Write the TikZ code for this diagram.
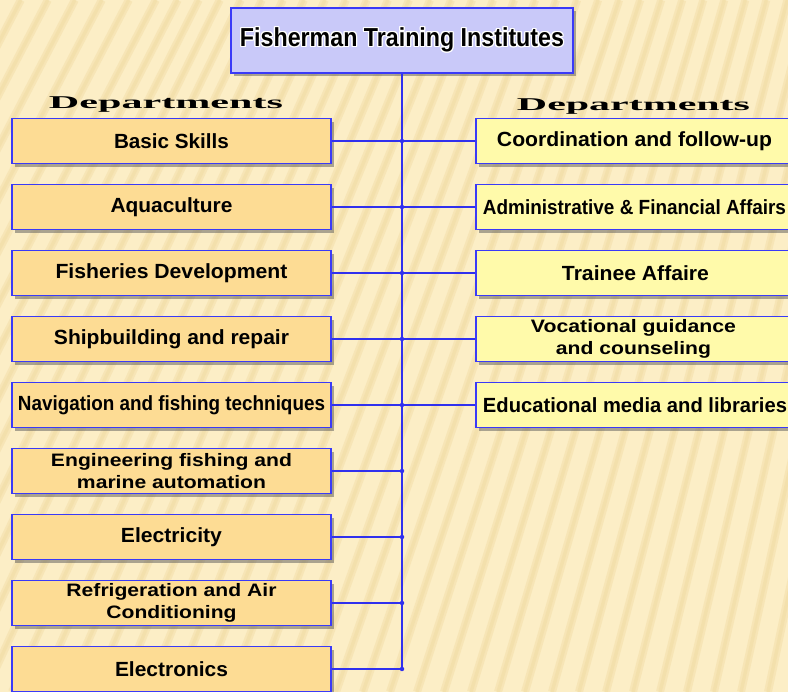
\documentclass[tikz,border=0pt]{standalone}
\usepackage{fontspec}
\setmainfont{Liberation Sans}
\newfontfamily\deptfont{Liberation Serif}
\usepackage{graphicx}
\usepackage{contour}
\contourlength{1.4pt}
\contournumber{12}
\usetikzlibrary{shadows}

\definecolor{paper}{HTML}{FCEEC6}
\definecolor{streak}{HTML}{F1DCA4}
\definecolor{leftfill}{HTML}{FDDC94}
\definecolor{rightfill}{HTML}{FFFAAA}
\definecolor{headfill}{HTML}{C9C9F9}
\definecolor{edge}{HTML}{3A3AF8}
\definecolor{wire}{HTML}{3030EE}
\definecolor{wireshade}{HTML}{E0304E}

% stretch a text horizontally to a given width (in pt), keeping its height
\newcommand{\fitw}[2]{\resizebox{#1pt}{\height}{#2}}

\tikzset{
  box/.style={draw=edge, line width=1.6pt, minimum height=45pt, inner sep=0pt,
    drop shadow={shadow xshift=3pt, shadow yshift=-3.5pt, fill=black!65, opacity=.5}},
  leftbox/.style={box, fill=leftfill, minimum width=319pt},
  rightbox/.style={box, fill=rightfill, minimum width=340pt},
  headbox/.style={box, fill=headfill, minimum width=342pt, minimum height=65pt},
  oneline/.style={font=\fontsize{20.5}{24}\selectfont\bfseries, inner sep=0pt},
  twolines/.style={font=\fontsize{18}{22}\selectfont\bfseries, inner sep=0pt, align=center},
  wireline/.style={draw=wire, line width=1.3pt},
  wireshadow/.style={draw=wireshade, line width=1.4pt, opacity=.8, shift={(0.9pt,-1.4pt)}},
  joint/.style={circle, fill=wire, inner sep=0pt, minimum size=4.5pt},
  depttitle/.style={font=\deptfont\fontsize{18}{20}\selectfont\bfseries, inner sep=0pt, anchor=base}
}

\begin{document}
\begin{tikzpicture}[x=1pt, y=1pt]
  \useasboundingbox (0,0) rectangle (788,692);
  \clip (0,0) rectangle (788,692);

  % paper background with soft diagonal streaks
  \fill[paper] (0,0) rectangle (788,692);
  \foreach \xa in {-420,-393,...,800} {
    \pgfmathsetmacro{\k}{0.52-0.32*max(0,min(1,(\xa+200)/1000))}
    \draw[streak, line width=8pt, opacity=.45] (\xa,0) -- ({\xa+692*\k},692);
    \draw[streak, line width=3.5pt, opacity=.5] (\xa,0) -- ({\xa+692*\k},692);
  }

  % column headings
  \node[depttitle] (dl) at (166,583) {\fitw{234}{Departments}};
  \node[depttitle] (dr) at (633.5,581) {\fitw{233}{Departments}};

  % head of the chart, its title set with a white halo
  \node[headbox] (t) at (402,651.5) {};
  \node[font=\fontsize{26}{30}\selectfont\bfseries, inner sep=0pt] (tt) at (t.center)
    {\fitw{324}{\contour{white}{Fisherman Training Institutes}}};

  % left column of departments
  \node[leftbox, oneline] (l1) at (171.5,551) {\fitw{115}{Basic Skills}};
  \node[leftbox, oneline] (l2) at (171.5,485) {\fitw{122}{Aquaculture}};
  \node[leftbox, oneline] (l3) at (171.5,419) {\fitw{232}{Fisheries Development}};
  \node[leftbox, oneline] (l4) at (171.5,353) {\fitw{235}{Shipbuilding and repair}};
  \node[leftbox, oneline] (l5) at (171.5,287) {\fitw{307}{Navigation and fishing techniques}};
  \node[leftbox, twolines] (l6) at (171.5,221) {\fitw{241}{Engineering fishing and}\\\fitw{189}{marine automation}};
  \node[leftbox, oneline] (l7) at (171.5,155) {\fitw{101}{Electricity}};
  \node[leftbox, twolines] (l8) at (171.5,89) {\fitw{210}{Refrigeration and Air}\\\fitw{130}{Conditioning}};
  \node[leftbox, oneline] (l9) at (171.5,23) {\fitw{113}{Electronics}};

  % right column of departments (boxes run past the right margin)
  \node[rightbox] (r1) at (646,551) {};
  \node[rightbox] (r2) at (646,485) {};
  \node[rightbox] (r3) at (646,419) {};
  \node[rightbox] (r4) at (646,353) {};
  \node[rightbox] (r5) at (646,287) {};
  \node[oneline] (r1t) at (634.5,551) {\fitw{275}{Coordination and follow-up}};
  \node[oneline] (r2t) at (634.5,485) {\fitw{303}{Administrative \& Financial Affairs}};
  \node[oneline] (r3t) at (635.5,419) {\fitw{147}{Trainee Affaire}};
  \node[twolines] (r4t) at (633.5,353) {\fitw{205}{Vocational guidance}\\\fitw{155}{and counseling}};
  \node[oneline] (r5t) at (635,287) {\fitw{304}{Educational media and libraries}};

  % junctions on the trunk
  \foreach \i in {1,...,9} { \coordinate (j\i) at (t.south |- l\i.east); }

  % trunk and branches: red offset line under a blue line
  \foreach \s in {wireshadow, wireline} {
    \draw[\s] (t.south) -- (j9);
    \foreach \i in {1,...,9} { \draw[\s] (l\i.east) -- (j\i); }
    \foreach \i in {1,...,5} { \draw[\s] (j\i) -- (r\i.west); }
  }
  \foreach \i in {1,...,9} { \node[joint] (d\i) at (j\i) {}; }
\end{tikzpicture}
\end{document}
